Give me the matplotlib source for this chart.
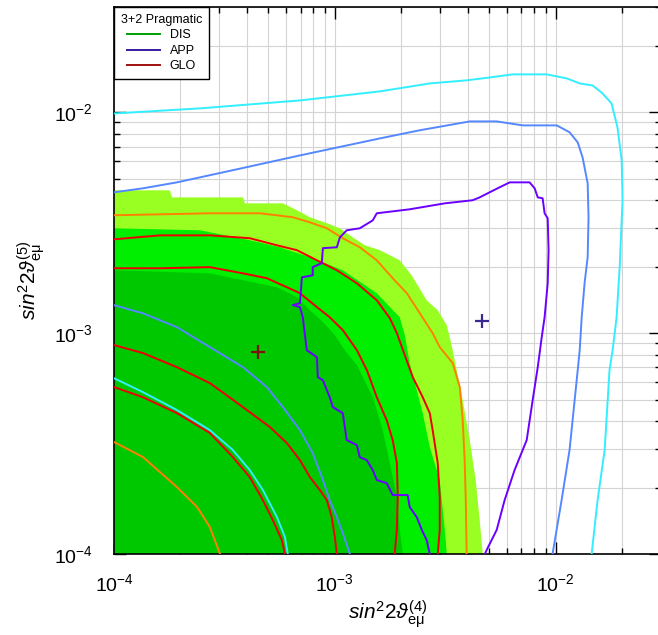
import matplotlib.pyplot as plt
import numpy as np
from matplotlib.lines import Line2D
from matplotlib.ticker import LogLocator, NullFormatter

plt.rcParams["font.family"] = ["Liberation Sans", "DejaVu Sans"]
plt.rcParams["mathtext.fontset"] = "custom"
plt.rcParams["mathtext.rm"] = "Liberation Sans"
plt.rcParams["mathtext.it"] = "Liberation Sans:italic"
plt.rcParams["mathtext.fallback"] = "stixsans"

# all curves are log10(sin^2 2theta) values
# DIS allowed regions (filled), outer to inner
light_x = [-4.000, -3.747, -3.738, -3.416, -3.407, -3.235, -3.172, -3.113, -3.036, -2.977, -2.919, -2.864, -2.796,
           -2.706, -2.652, -2.584, -2.534, -2.493, -2.471, -2.448, -2.421, -2.389, -2.362, -2.344, -2.330]
light_y = [-2.353, -2.353, -2.385, -2.385, -2.412, -2.412, -2.443, -2.475, -2.502, -2.525, -2.566, -2.602, -2.624,
           -2.670, -2.738, -2.851, -2.896, -2.964, -3.054, -3.167, -3.303, -3.484, -3.665, -3.846, -4.000]
mid_x = [-4.000, -3.611, -3.385, -3.249, -3.113, -2.964, -2.810, -2.706, -2.683, -2.661, -2.629, -2.602, -2.570,
         -2.525, -2.502, -2.493]
mid_y = [-2.525, -2.534, -2.579, -2.611, -2.656, -2.715, -2.819, -2.928, -3.009, -3.136, -3.258, -3.362, -3.516,
         -3.665, -3.891, -4.000]
dark_x = [-4.000, -3.566, -3.416, -3.262, -3.172, -3.113, -3.054, -3.000, -2.955, -2.900, -2.828, -2.783, -2.751,
          -2.719, -2.706, -2.692]
dark_y = [-2.715, -2.729, -2.760, -2.792, -2.837, -2.896, -2.950, -3.009, -3.077, -3.145, -3.290, -3.439, -3.588,
          -3.742, -3.891, -4.000]

# contour lines
cyan_big_x = [-4.000, -3.611, -3.158, -2.796, -2.570, -2.403, -2.299, -2.195, -2.041, -1.950, -1.891, -1.833, -1.792,
              -1.747, -1.720, -1.701, -1.697, -1.710, -1.724, -1.742, -1.756, -1.778, -1.810, -1.837]
cyan_big_y = [-2.005, -1.982, -1.946, -1.905, -1.869, -1.855, -1.842, -1.828, -1.828, -1.846, -1.869, -1.878, -1.910,
              -1.959, -2.068, -2.217, -2.398, -2.701, -2.928, -3.077, -3.167, -3.529, -3.756, -4.000]
blue_big_x = [-4.000, -3.869, -3.715, -3.462, -3.158, -2.796, -2.615, -2.389, -2.267, -2.149, -1.995, -1.937, -1.900,
              -1.878, -1.855, -1.851, -1.855, -1.869, -1.882, -1.891, -1.900, -1.937, -1.973, -2.014]
blue_big_y = [-2.362, -2.344, -2.317, -2.262, -2.195, -2.118, -2.081, -2.041, -2.041, -2.059, -2.059, -2.090, -2.136,
              -2.204, -2.321, -2.475, -2.656, -2.774, -2.928, -3.077, -3.167, -3.529, -3.756, -4.000]
app_x = [-2.570, -2.584, -2.606, -2.629, -2.661, -2.670, -2.738, -2.765, -2.810, -2.828, -2.855, -2.887, -2.900,
         -2.946, -2.964, -3.009, -3.023, -3.054, -3.077, -3.081, -3.127, -3.145, -3.158, -3.190, -3.158, -3.149,
         -3.100, -3.100, -3.059, -3.054, -2.991, -2.977, -2.946, -2.887, -2.828, -2.810, -2.661, -2.502, -2.376,
         -2.344, -2.299, -2.253, -2.208, -2.118, -2.095, -2.081, -2.059, -2.050, -2.036, -2.032, -2.036, -2.050,
         -2.063, -2.081, -2.104, -2.131, -2.186, -2.231, -2.267, -2.308, -2.321]
app_y = [-4.000, -3.937, -3.891, -3.833, -3.787, -3.733, -3.733, -3.679, -3.665, -3.620, -3.575, -3.561, -3.507,
         -3.484, -3.362, -3.335, -3.290, -3.213, -3.199, -3.109, -3.077, -2.928, -2.882, -2.873, -2.864, -2.747,
         -2.738, -2.701, -2.683, -2.615, -2.611, -2.566, -2.534, -2.525, -2.489, -2.457, -2.439, -2.412, -2.398,
         -2.385, -2.362, -2.339, -2.317, -2.317, -2.344, -2.385, -2.389, -2.457, -2.480, -2.624, -2.774, -2.928,
         -3.018, -3.154, -3.303, -3.484, -3.620, -3.756, -3.891, -3.973, -4.000]
orange_big_x = [-4.000, -3.566, -3.339, -3.190, -3.113, -3.036, -2.964, -2.887, -2.810, -2.738, -2.674, -2.615,
                -2.557, -2.525, -2.466, -2.434, -2.421, -2.412, -2.407, -2.403]
orange_big_y = [-2.466, -2.457, -2.457, -2.475, -2.498, -2.525, -2.570, -2.611, -2.670, -2.751, -2.819, -2.910,
                -3.000, -3.063, -3.136, -3.244, -3.394, -3.575, -3.756, -4.000]
orange_small_x = [-4.000, -3.869, -3.715, -3.624, -3.566, -3.520]
orange_small_y = [-3.493, -3.561, -3.697, -3.787, -3.878, -4.000]
red1_x = [-4.000, -3.792, -3.566, -3.385, -3.262, -3.172, -3.081, -2.991, -2.900, -2.810, -2.751, -2.719, -2.683,
          -2.647, -2.602, -2.570, -2.557, -2.534, -2.525, -2.525, -2.534]
red1_y = [-2.575, -2.557, -2.557, -2.570, -2.602, -2.624, -2.670, -2.715, -2.774, -2.851, -2.932, -3.000, -3.100,
          -3.199, -3.290, -3.362, -3.439, -3.588, -3.742, -3.891, -4.000]
red2_x = [-4.000, -3.792, -3.566, -3.416, -3.308, -3.217, -3.158, -3.081, -3.023, -2.964, -2.900, -2.855, -2.810,
          -2.765, -2.738, -2.719, -2.715, -2.719, -2.729]
red2_y = [-2.706, -2.706, -2.701, -2.729, -2.751, -2.792, -2.819, -2.882, -2.928, -2.986, -3.077, -3.167, -3.290,
          -3.394, -3.484, -3.588, -3.742, -3.891, -4.000]
red3_x = [-4.000, -3.869, -3.715, -3.566, -3.416, -3.294, -3.217, -3.158, -3.113, -3.068, -3.036, -3.014, -3.000,
          -2.991]
red3_y = [-3.054, -3.090, -3.154, -3.226, -3.335, -3.425, -3.498, -3.575, -3.652, -3.710, -3.756, -3.833, -3.923,
          -4.000]
red4_x = [-4.000, -3.869, -3.715, -3.566, -3.462, -3.385, -3.326, -3.281, -3.240, -3.226]
red4_y = [-3.244, -3.290, -3.362, -3.452, -3.561, -3.652, -3.756, -3.846, -3.937, -4.000]
cyan_small_x = [-4.000, -3.869, -3.715, -3.566, -3.462, -3.385, -3.326, -3.262, -3.226, -3.213]
cyan_small_y = [-3.204, -3.267, -3.348, -3.439, -3.529, -3.620, -3.710, -3.833, -3.923, -4.000]
blue_small_x = [-4.000, -3.869, -3.715, -3.566, -3.416, -3.308, -3.235, -3.158, -3.100, -3.054, -3.023, -2.991,
                -2.964, -2.932]
blue_small_y = [-2.873, -2.910, -2.973, -3.063, -3.154, -3.244, -3.335, -3.439, -3.543, -3.665, -3.756, -3.833,
                -3.905, -4.000]

# best-fit points
glo_best = (4.49e-4, 8.2e-4)
app_best = (4.63e-3, 1.13e-3)

legend_labels = ["DIS", "APP", "GLO"]
legend_colors = ["#00a000", "#3a1aa0", "#a01010"]


def lin(v):
    return 10 ** np.asarray(v)


fig = plt.figure(figsize=(6.58, 6.35), dpi=100)
ax = fig.add_axes([114 / 658, 81 / 635, 547 / 658, 547 / 635])
ax.set_xscale("log")
ax.set_yscale("log")
ax.set_xlim(1e-4, 3e-2)
ax.set_ylim(1e-4, 3e-2)

corner = 1e-4
for fx, fy, col in [(light_x, light_y, "#99ff22"), (mid_x, mid_y, "#00ee00"), (dark_x, dark_y, "#00c800")]:
    ax.fill(np.r_[lin(fx), corner], np.r_[lin(fy), corner], color=col, lw=0, zorder=1)

curves = [
    (cyan_big_x, cyan_big_y, "#33eeff"),
    (blue_big_x, blue_big_y, "#5588ff"),
    (orange_big_x, orange_big_y, "#ff8000"),
    (orange_small_x, orange_small_y, "#ff8000"),
    (blue_small_x, blue_small_y, "#5588ff"),
    (cyan_small_x, cyan_small_y, "#33eeff"),
    (red1_x, red1_y, "#ee0000"),
    (red2_x, red2_y, "#ee0000"),
    (red3_x, red3_y, "#ee0000"),
    (red4_x, red4_y, "#ee0000"),
    (app_x, app_y, "#6a00ff"),
]
for cx, cy, col in curves:
    ax.plot(lin(cx), lin(cy), color=col, lw=1.4, zorder=3)

ax.plot(*glo_best, marker="+", ms=10, mew=1.6, color="#801010", zorder=4)
ax.plot(*app_best, marker="+", ms=10, mew=1.6, color="#3a2a90", zorder=4)

# axes styling, ROOT-like
for a in (ax.xaxis, ax.yaxis):
    a.set_major_locator(LogLocator(base=10))
    a.set_minor_locator(LogLocator(base=10, subs=np.arange(2, 10)))
    a.set_minor_formatter(NullFormatter())
ax.grid(which="both", color="#d4d4d4", lw=0.8)
ax.set_axisbelow(True)
ax.tick_params(which="both", direction="in", top=True, right=True, labelsize=14, width=1)
ax.tick_params(which="major", length=8.5)
ax.tick_params(which="minor", length=4.3)
ax.tick_params(axis="x", pad=14)
ax.tick_params(axis="y", pad=15)
for s in ax.spines.values():
    s.set_linewidth(1.2)

ax.set_xlabel(r"$sin^{2}2\vartheta^{(4)}_{\mathrm{e\mu}}$", fontsize=15, labelpad=2)
ax.set_ylabel(r"$sin^{2}2\vartheta^{(5)}_{\mathrm{e\mu}}$", fontsize=15, labelpad=5)

handles = [Line2D([], [], color=c, lw=1.4) for c in legend_colors]
leg = ax.legend(handles, legend_labels, title="3+2 Pragmatic", loc="upper left", bbox_to_anchor=(0, 1),
                borderaxespad=0, fancybox=False, edgecolor="black", framealpha=1, fontsize=9,
                title_fontsize=9, handlelength=2.6, labelspacing=0.28, borderpad=0.55)
leg.get_frame().set_linewidth(1.0)
leg.set_zorder(5)

fig.savefig("out.png", dpi=100)
